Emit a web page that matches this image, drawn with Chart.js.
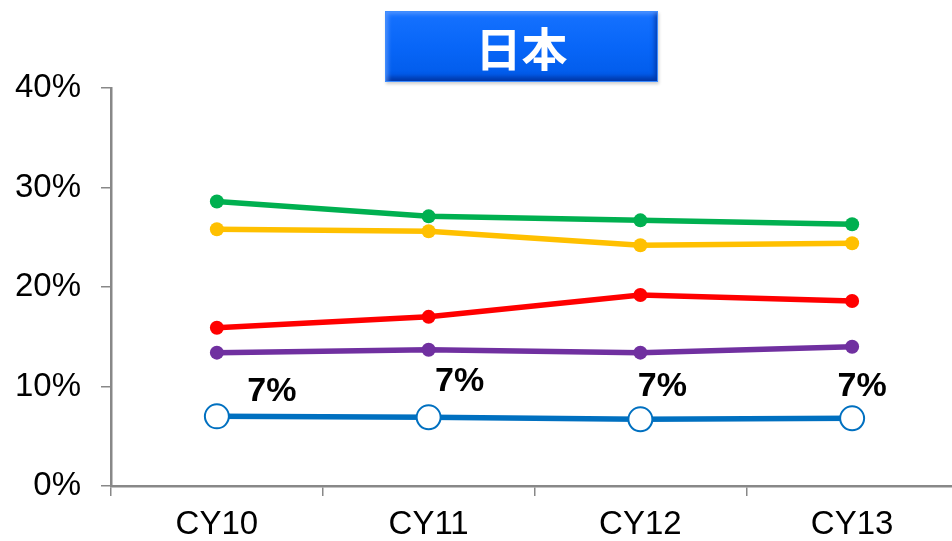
<!DOCTYPE html>
<html>
<head>
<meta charset="utf-8">
<script src="https://cdn.jsdelivr.net/npm/chart.js@4"></script>
<style>
  html, body { margin: 0; padding: 0; background: #fff; overflow: hidden; }
  #wrap { position: relative; width: 952px; height: 541px; overflow: hidden; }
  #title {
    position: absolute; left: 385px; top: 11px; width: 273px; height: 71px;
    background: linear-gradient(to bottom, #1672ff 0%, #0866f8 50%, #005ae8 100%);
    box-shadow: inset 0 0 0 1px #3d8cff, inset 3px 3px 4px rgba(120,170,255,0.6), inset -3px -5px 5px rgba(0,40,140,0.7), 1px 2px 3px rgba(0,0,0,0.2);
    color: #fff; font-family: "Noto Sans CJK JP", sans-serif; font-weight: bold;
    font-size: 46px; line-height: 71px; text-align: center; letter-spacing: 0px;
  }
  canvas { position: absolute; left: 0; top: 0; }
</style>
</head>
<body>
<div id="wrap">
  <canvas id="c" width="972" height="541"></canvas>
  <div id="title">日本</div>
</div>
<script>
const categories = ["CY10", "CY11", "CY12", "CY13"];
const greenValues  = [28.6, 27.1, 26.7, 26.3];
const yellowValues = [25.8, 25.6, 24.2, 24.4];
const redValues    = [15.9, 17.0, 19.2, 18.6];
const purpleValues = [13.4, 13.7, 13.4, 14.0];
const blueValues   = [7.0, 6.9, 6.7, 6.8];
const blueLabels   = ["7%", "7%", "7%", "7%"];
const yTicks = [0, 10, 20, 30, 40];

// label placement (style config, not data)
const labelOffsets = [[55, -25], [31, -36], [22, -33], [10, -32]];

const labelPlugin = {
  id: 'blueLabels',
  afterDatasetsDraw(chart) {
    const meta = chart.getDatasetMeta(4);
    const ctx = chart.ctx;
    ctx.save();
    ctx.font = 'bold 34px "Liberation Sans", Arial, sans-serif';
    ctx.fillStyle = '#000';
    ctx.textAlign = 'center';
    ctx.textBaseline = 'middle';
    meta.data.forEach((pt, i) => {
      const off = labelOffsets[i];
      ctx.fillText(blueLabels[i], pt.x + off[0], pt.y + off[1]);
    });
    ctx.restore();
  }
};

function ds(data, color, hollow) {
  return {
    data: data,
    borderColor: color,
    backgroundColor: hollow ? '#fff' : color,
    pointBackgroundColor: hollow ? '#fff' : color,
    pointBorderColor: color,
    pointBorderWidth: hollow ? 2 : 0,
    pointRadius: hollow ? 12 : 7,
    pointHoverRadius: hollow ? 12 : 7,
    borderWidth: 5.5,
    tension: 0,
    fill: false
  };
}

new Chart(document.getElementById('c'), {
  type: 'line',
  data: {
    labels: categories,
    datasets: [
      ds(greenValues, '#00B050'),
      ds(yellowValues, '#FFC000'),
      ds(redValues, '#FF0000'),
      ds(purpleValues, '#7030A0'),
      ds(blueValues, '#0070C0', true)
    ]
  },
  options: {
    responsive: false,
    animation: false,
    devicePixelRatio: 1,
    layout: { padding: { top: 88, left: 0, right: 0, bottom: 0 } },
    plugins: { legend: { display: false }, tooltip: { enabled: false }, title: { display: false } },
    scales: {
      x: {
        type: 'category',
        offset: true,
        border: { display: true, color: '#888', width: 2.5 },
        grid: { display: true, drawOnChartArea: false, drawTicks: true, tickLength: 10, color: '#888', lineWidth: 1.5, offset: true },
        ticks: { color: '#000', font: { family: '"Liberation Sans", Arial, sans-serif', size: 33 }, padding: 9, maxRotation: 0, autoSkip: false },
        afterFit(scale) { scale.height = 55; scale.paddingLeft = 0; scale.paddingRight = 0; }
      },
      y: {
        min: 0, max: 40,
        afterBuildTicks(scale) { scale.ticks = yTicks.map(v => ({ value: v })); },
        border: { display: true, color: '#888', width: 2.5 },
        grid: { display: true, drawOnChartArea: false, drawTicks: true, tickLength: 10, color: '#888', lineWidth: 1.5 },
        ticks: {
          color: '#000', padding: 20,
          font: { family: '"Liberation Sans", Arial, sans-serif', size: 33 },
          callback: v => v + '%'
        },
        afterFit(scale) { scale.width = 111; scale.paddingTop = 0; scale.paddingBottom = 0; }
      }
    }
  },
  plugins: [labelPlugin]
});
</script>
</body>
</html>
